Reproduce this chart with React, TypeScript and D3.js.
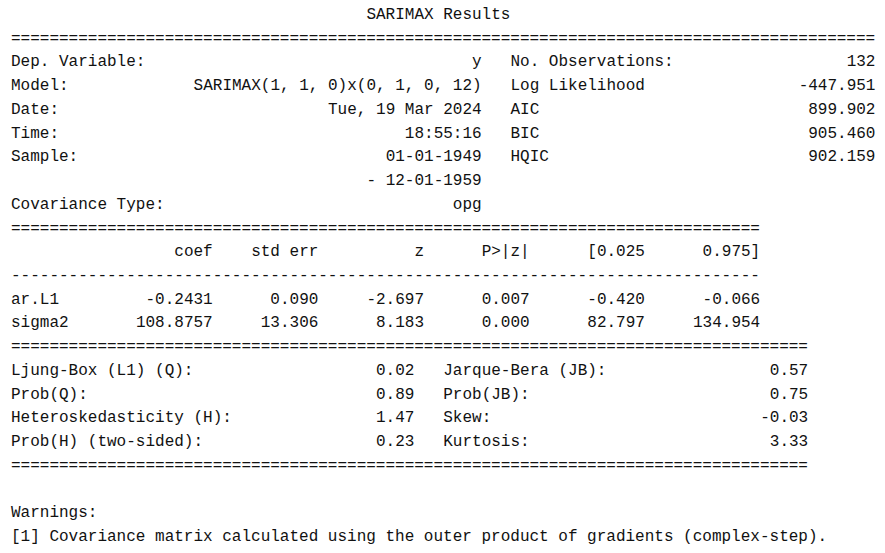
import * as d3 from "d3"

// Top block (90 chars wide)
const title = "SARIMAX Results"
const topLeftLabels = ["Dep. Variable:", "Model:", "Date:", "Time:", "Sample:", "", "Covariance Type:"]
const topLeftValues = ["y", "SARIMAX(1, 1, 0)x(0, 1, 0, 12)", "Tue, 19 Mar 2024", "18:55:16", "01-01-1949", "- 12-01-1959", "opg"]
const topRightLabels = ["No. Observations:", "Log Likelihood", "AIC", "BIC", "HQIC", "", ""]
const topRightValues = ["132", "-447.951", "899.902", "905.460", "902.159", "", ""]

// Coefficient table (78 chars wide)
const coefHeaders = ["coef", "std err", "z", "P>|z|", "[0.025", "0.975]"]
const paramNames = ["ar.L1", "sigma2"]
const coef = [-0.2431, 108.8757]
const stdErr = [0.09, 13.306]
const zValues = [-2.697, 8.183]
const pValues = [0.007, 0.0]
const ciLower = [-0.42, 82.797]
const ciUpper = [-0.066, 134.954]

// Diagnostics table (83 chars wide)
const diagLeftLabels = ["Ljung-Box (L1) (Q):", "Prob(Q):", "Heteroskedasticity (H):", "Prob(H) (two-sided):"]
const diagLeftValues = [0.02, 0.89, 1.47, 0.23]
const diagRightLabels = ["Jarque-Bera (JB):", "Prob(JB):", "Skew:", "Kurtosis:"]
const diagRightValues = [0.57, 0.75, -0.03, 3.33]

const warnings = ["Warnings:", "[1] Covariance matrix calculated using the outer product of gradients (complex-step)."]

const WIDTH = 885
const HEIGHT = 553
const CHAR_W = 9.605
const LINE_H = 23.73

interface Cell {
  line: number
  col: number
  text: string
  anchor: "start" | "end"
}

export default function App() {
  // column index -> x, line index -> baseline y
  const x = d3.scaleLinear().domain([0, 1]).range([11, 11 + CHAR_W])
  const y = d3.scaleLinear().domain([0, 1]).range([19, 19 + LINE_H])

  const cells: Cell[] = []
  const add = (line: number, col: number, text: string, anchor: "start" | "end" = "start") => {
    if (text) cells.push({ line, col, text, anchor })
  }

  add(0, 37, title)
  add(1, 0, "=".repeat(90))
  topLeftLabels.forEach((l, i) => {
    add(2 + i, 0, l)
    add(2 + i, 49, topLeftValues[i], "end")
    add(2 + i, 52, topRightLabels[i])
    add(2 + i, 90, topRightValues[i], "end")
  })
  add(9, 0, "=".repeat(78))

  const colEnds = [21, 32, 43, 54, 66, 78]
  coefHeaders.forEach((h, j) => add(10, colEnds[j], h, "end"))
  add(11, 0, "-".repeat(78))
  const columns = [
    coef.map((v) => v.toFixed(4)),
    stdErr.map((v) => v.toFixed(3)),
    zValues.map((v) => v.toFixed(3)),
    pValues.map((v) => v.toFixed(3)),
    ciLower.map((v) => v.toFixed(3)),
    ciUpper.map((v) => v.toFixed(3)),
  ]
  paramNames.forEach((p, i) => {
    add(12 + i, 0, p)
    columns.forEach((col, j) => add(12 + i, colEnds[j], col[i], "end"))
  })
  add(14, 0, "=".repeat(83))

  diagLeftLabels.forEach((l, i) => {
    add(15 + i, 0, l)
    add(15 + i, 42, diagLeftValues[i].toFixed(2), "end")
    add(15 + i, 45, diagRightLabels[i])
    add(15 + i, 83, diagRightValues[i].toFixed(2), "end")
  })
  add(19, 0, "=".repeat(83))

  warnings.forEach((w, i) => add(21 + i, 0, w))

  return (
    <svg
      width={WIDTH}
      height={HEIGHT}
      style={{ position: "absolute", left: 0, top: 0, background: "#fff" }}
    >
      <rect width={WIDTH} height={HEIGHT} fill="#fff" />
      <g fontFamily="'Liberation Mono', 'DejaVu Sans Mono', monospace" fontSize={16} fill="#111">
        {cells.map((c, i) => (
          <text
            key={i}
            x={x(c.col)}
            y={y(c.line)}
            textAnchor={c.anchor}
            style={{ whiteSpace: "pre" }}
          >
            {c.text}
          </text>
        ))}
      </g>
    </svg>
  )
}
